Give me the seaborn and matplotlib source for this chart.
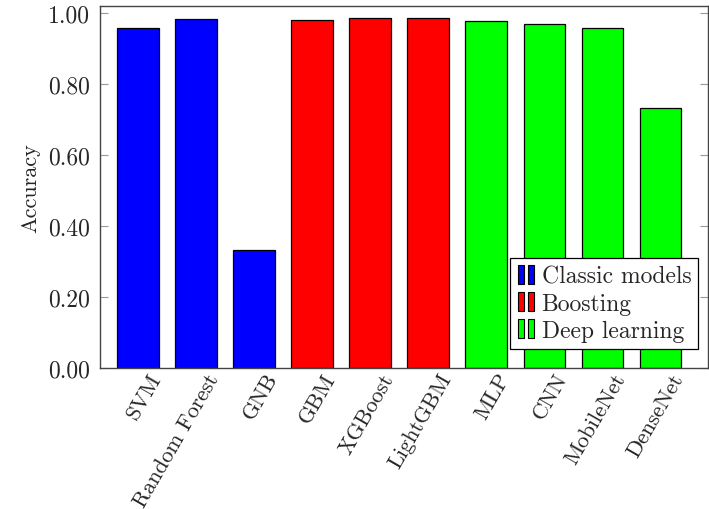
import matplotlib
matplotlib.use("Agg")
import pandas as pd
import seaborn as sns
import matplotlib.pyplot as plt
import matplotlib.transforms as mtransforms
from matplotlib.patches import Rectangle
from matplotlib.legend_handler import HandlerBase

# Data
models = ["SVM", "Random Forest", "GNB", "GBM", "XGBoost", "LightGBM",
          "MLP", "CNN", "MobileNet", "DenseNet"]
accuracy = [0.958, 0.983, 0.333, 0.980, 0.985, 0.986, 0.977, 0.969, 0.959, 0.732]
groups = ["Classic models"] * 3 + ["Boosting"] * 3 + ["Deep learning"] * 4
group_names = ["Classic models", "Boosting", "Deep learning"]
group_colors = ["#0000ff", "#ff0000", "#00ff00"]
yticks = [0.0, 0.2, 0.4, 0.6, 0.8, 1.0]

df = pd.DataFrame({"model": models, "accuracy": accuracy, "group": groups})

sns.set_style("white")
plt.rcParams["font.family"] = ["cmr10", "DejaVu Serif"]
plt.rcParams["axes.formatter.use_mathtext"] = True
plt.rcParams["mathtext.fontset"] = "cm"


# pgfplots-style legend image: two small bars per entry
class TwoBars(HandlerBase):
    def create_artists(self, legend, orig_handle, xdescent, ydescent,
                       width, height, fontsize, trans):
        w = width * 0.28
        h = height * 1.15
        y0 = -ydescent - height * 0.08
        arts = []
        for x0 in (-xdescent + width * 0.08, -xdescent + width * 0.52):
            r = Rectangle((x0, y0), w, h, facecolor=orig_handle.get_facecolor(),
                          edgecolor="black", linewidth=0.8, transform=trans)
            arts.append(r)
        return arts


fig = plt.figure(figsize=(7.09, 5.10), dpi=100)
ax = fig.add_axes([100 / 709, 141 / 510, 608 / 709, 362 / 510])

sns.barplot(data=df, x="model", y="accuracy", hue="group",
            palette=dict(zip(group_names, group_colors)), dodge=False,
            saturation=1, width=0.72, edgecolor="black", linewidth=0.9,
            legend=False, ax=ax)

ax.set_xlim(-0.66, 9.82)
ax.set_ylim(0, 1.02)
ax.set_yticks(yticks)
ax.set_yticklabels([f"{t:.2f}" for t in yticks])
ax.set_xlabel("")
ax.set_ylabel("Accuracy", fontsize=16, labelpad=6)
ax.tick_params(axis="y", direction="in", length=6, color="#999999",
               labelsize=17, right=True, left=True, pad=7)
ax.tick_params(axis="x", length=0, labelsize=16, pad=1)
shift = mtransforms.ScaledTranslation(0.10, 0, fig.dpi_scale_trans)
for lab in ax.get_xticklabels():
    lab.set_rotation(60)
    lab.set_ha("right")
    lab.set_va("top")
    lab.set_rotation_mode("anchor")
    lab.set_transform(lab.get_transform() + shift)
for s in ax.spines.values():
    s.set_color("#444444")
    s.set_linewidth(1.0)

handles = [Rectangle((0, 0), 1, 1, facecolor=c) for c in group_colors]
leg = ax.legend(handles, group_names, handler_map={Rectangle: TwoBars()},
                loc="lower right", bbox_to_anchor=(0.984, 0.052),
                borderaxespad=0, fontsize=17, frameon=True, fancybox=False,
                framealpha=1, edgecolor="black", handlelength=0.9,
                handletextpad=0.15, labelspacing=0.22, borderpad=0.3)
leg.get_frame().set_linewidth(0.9)

fig.savefig("out.png", dpi=100)
